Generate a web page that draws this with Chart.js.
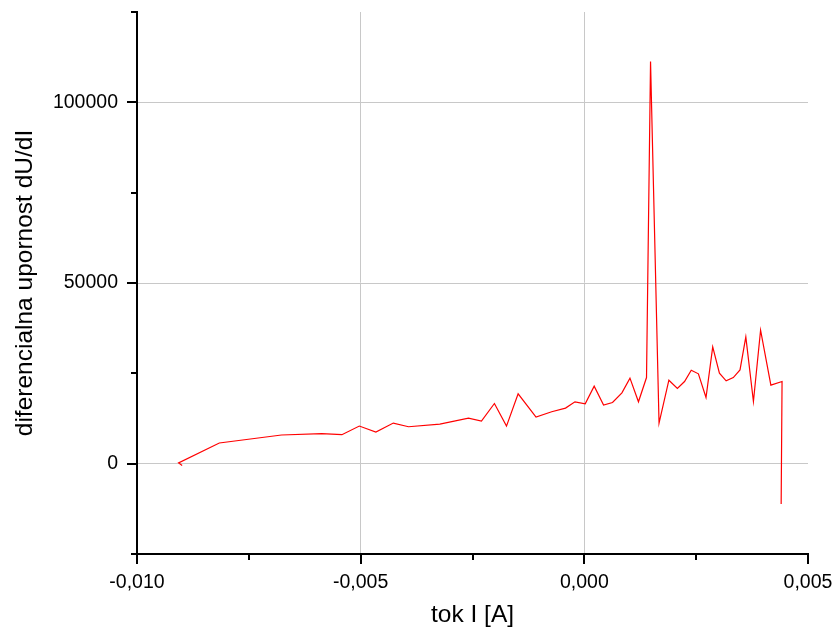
<!DOCTYPE html>
<html>
<head>
<meta charset="utf-8">
<script src="https://cdn.jsdelivr.net/npm/chart.js@4"></script>
<style>
  body { margin: 0; background: #fff; }
</style>
</head>
<body>
<canvas id="chart" width="836" height="636"></canvas>
<script>
// tok I [A]
const currentValues = [
    -0.00899, -0.00907, -0.00816, -0.00677, -0.00587, -0.00542, -0.00503, -0.00466,
    -0.00427, -0.00393, -0.00323, -0.00259, -0.00230, -0.00201, -0.00174, -0.00148,
    -0.00108, -0.00073, -0.00042, -0.00021, 0.00002, 0.00022, 0.00043, 0.00063,
    0.00084, 0.00102, 0.00121, 0.00139, 0.00148, 0.00167, 0.00189, 0.00208,
    0.00224, 0.00239, 0.00255, 0.00272, 0.00287, 0.00302, 0.00317, 0.00333,
    0.00348, 0.00361, 0.00378, 0.00394, 0.00417, 0.00442, 0.00440
];
// diferencialna upornost dU/dI
const resistanceValues = [
    -500, 200, 5720, 7930, 8290, 8010, 10410, 8750,
    11240, 10220, 10960, 12620, 11790, 16650, 10400, 19330,
    12890, 14360, 15380, 17120, 16570, 21450, 16200, 16930,
    19610, 23670, 17120, 23830, 111300, 11230, 23100, 20800,
    22730, 25870, 24860, 18310, 32310, 25040, 22920, 23840,
    25960, 35070, 17200, 36920, 21730, 22730, -11130
];
const xLabelValues = [-0.010, -0.005, 0.000, 0.005];
const yLabelValues = [0, 50000, 100000];
const xGridValues = [-0.005, 0.000];
const yGridValues = [0, 50000, 100000];

const fontFamily = '"Liberation Sans", Arial, sans-serif';

function near(list, v, eps) {
    return list.some(t => Math.abs(t - v) < eps);
}

// kratke crtice ob oseh (glavne daljse, vmesne krajse)
const axisTicksPlugin = {
    id: 'axisTicks',
    afterDraw(chart) {
        const ctx = chart.ctx;
        const area = chart.chartArea;
        ctx.save();
        ctx.strokeStyle = '#000';
        ctx.lineWidth = 2;
        const xs = chart.scales.x;
        xs.ticks.forEach(t => {
            const p = Math.round(xs.getPixelForValue(t.value));
            const len = near(xLabelValues, t.value, 1e-7) ? 10 : 6;
            ctx.beginPath();
            ctx.moveTo(p, area.bottom);
            ctx.lineTo(p, area.bottom + len);
            ctx.stroke();
        });
        const ys = chart.scales.y;
        ys.ticks.forEach(t => {
            const p = Math.round(ys.getPixelForValue(t.value));
            const len = near(yLabelValues, t.value, 1) ? 10 : 6;
            ctx.beginPath();
            ctx.moveTo(area.left - len, p);
            ctx.lineTo(area.left, p);
            ctx.stroke();
        });
        ctx.restore();
    }
};

const points = currentValues.map((x, i) => ({ x: x, y: resistanceValues[i] }));

new Chart(document.getElementById('chart').getContext('2d'), {
    type: 'scatter',
    data: {
        datasets: [{
            data: points,
            showLine: true,
            borderColor: '#ff0000',
            borderWidth: 1.2,
            pointRadius: 0,
            tension: 0,
            fill: false
        }]
    },
    options: {
        responsive: false,
        animation: false,
        layout: { padding: { top: 12, right: 28, left: 0, bottom: 0 } },
        plugins: {
            legend: { display: false },
            tooltip: { enabled: false }
        },
        scales: {
            x: {
                type: 'linear',
                min: -0.010,
                max: 0.005,
                afterFit: s => {
                    s.height = 82;
                    s.paddingLeft = 0;
                    s.paddingRight = 0;
                },
                border: { display: true, color: '#000', width: 2 },
                grid: {
                    drawTicks: false,
                    lineWidth: 1,
                    color: c => near(xGridValues, c.tick.value, 1e-7) ? '#c8c8c8' : 'rgba(0,0,0,0)'
                },
                ticks: {
                    stepSize: 0.0025,
                    autoSkip: false,
                    maxRotation: 0,
                    padding: 17,
                    color: '#000',
                    font: { family: fontFamily, size: 19.5 },
                    callback: v => {
                        if (!near(xLabelValues, v, 1e-7)) return '';
                        if (Math.abs(v) < 1e-9) return '0,000';
                        return v.toFixed(3).replace('.', ',');
                    }
                },
                title: {
                    display: true,
                    text: 'tok I [A]',
                    color: '#000',
                    font: { family: fontFamily, size: 24.5 },
                    padding: { top: 0, bottom: 6 }
                }
            },
            y: {
                type: 'linear',
                min: -25000,
                max: 125000,
                afterFit: s => {
                    s.width = 137;
                    s.paddingTop = 0;
                    s.paddingBottom = 0;
                },
                border: { display: true, color: '#000', width: 2 },
                grid: {
                    drawTicks: false,
                    lineWidth: 1,
                    color: c => near(yGridValues, c.tick.value, 1) ? '#c8c8c8' : 'rgba(0,0,0,0)'
                },
                ticks: {
                    stepSize: 25000,
                    autoSkip: false,
                    padding: 19,
                    color: '#000',
                    font: { family: fontFamily, size: 19.5 },
                    callback: v => near(yLabelValues, v, 1) ? String(v) : ''
                },
                title: {
                    display: true,
                    text: 'diferencialna upornost dU/dI',
                    color: '#000',
                    font: { family: fontFamily, size: 24.5 },
                    padding: { top: 11, bottom: 0 }
                }
            }
        }
    },
    plugins: [axisTicksPlugin]
});
</script>
</body>
</html>
